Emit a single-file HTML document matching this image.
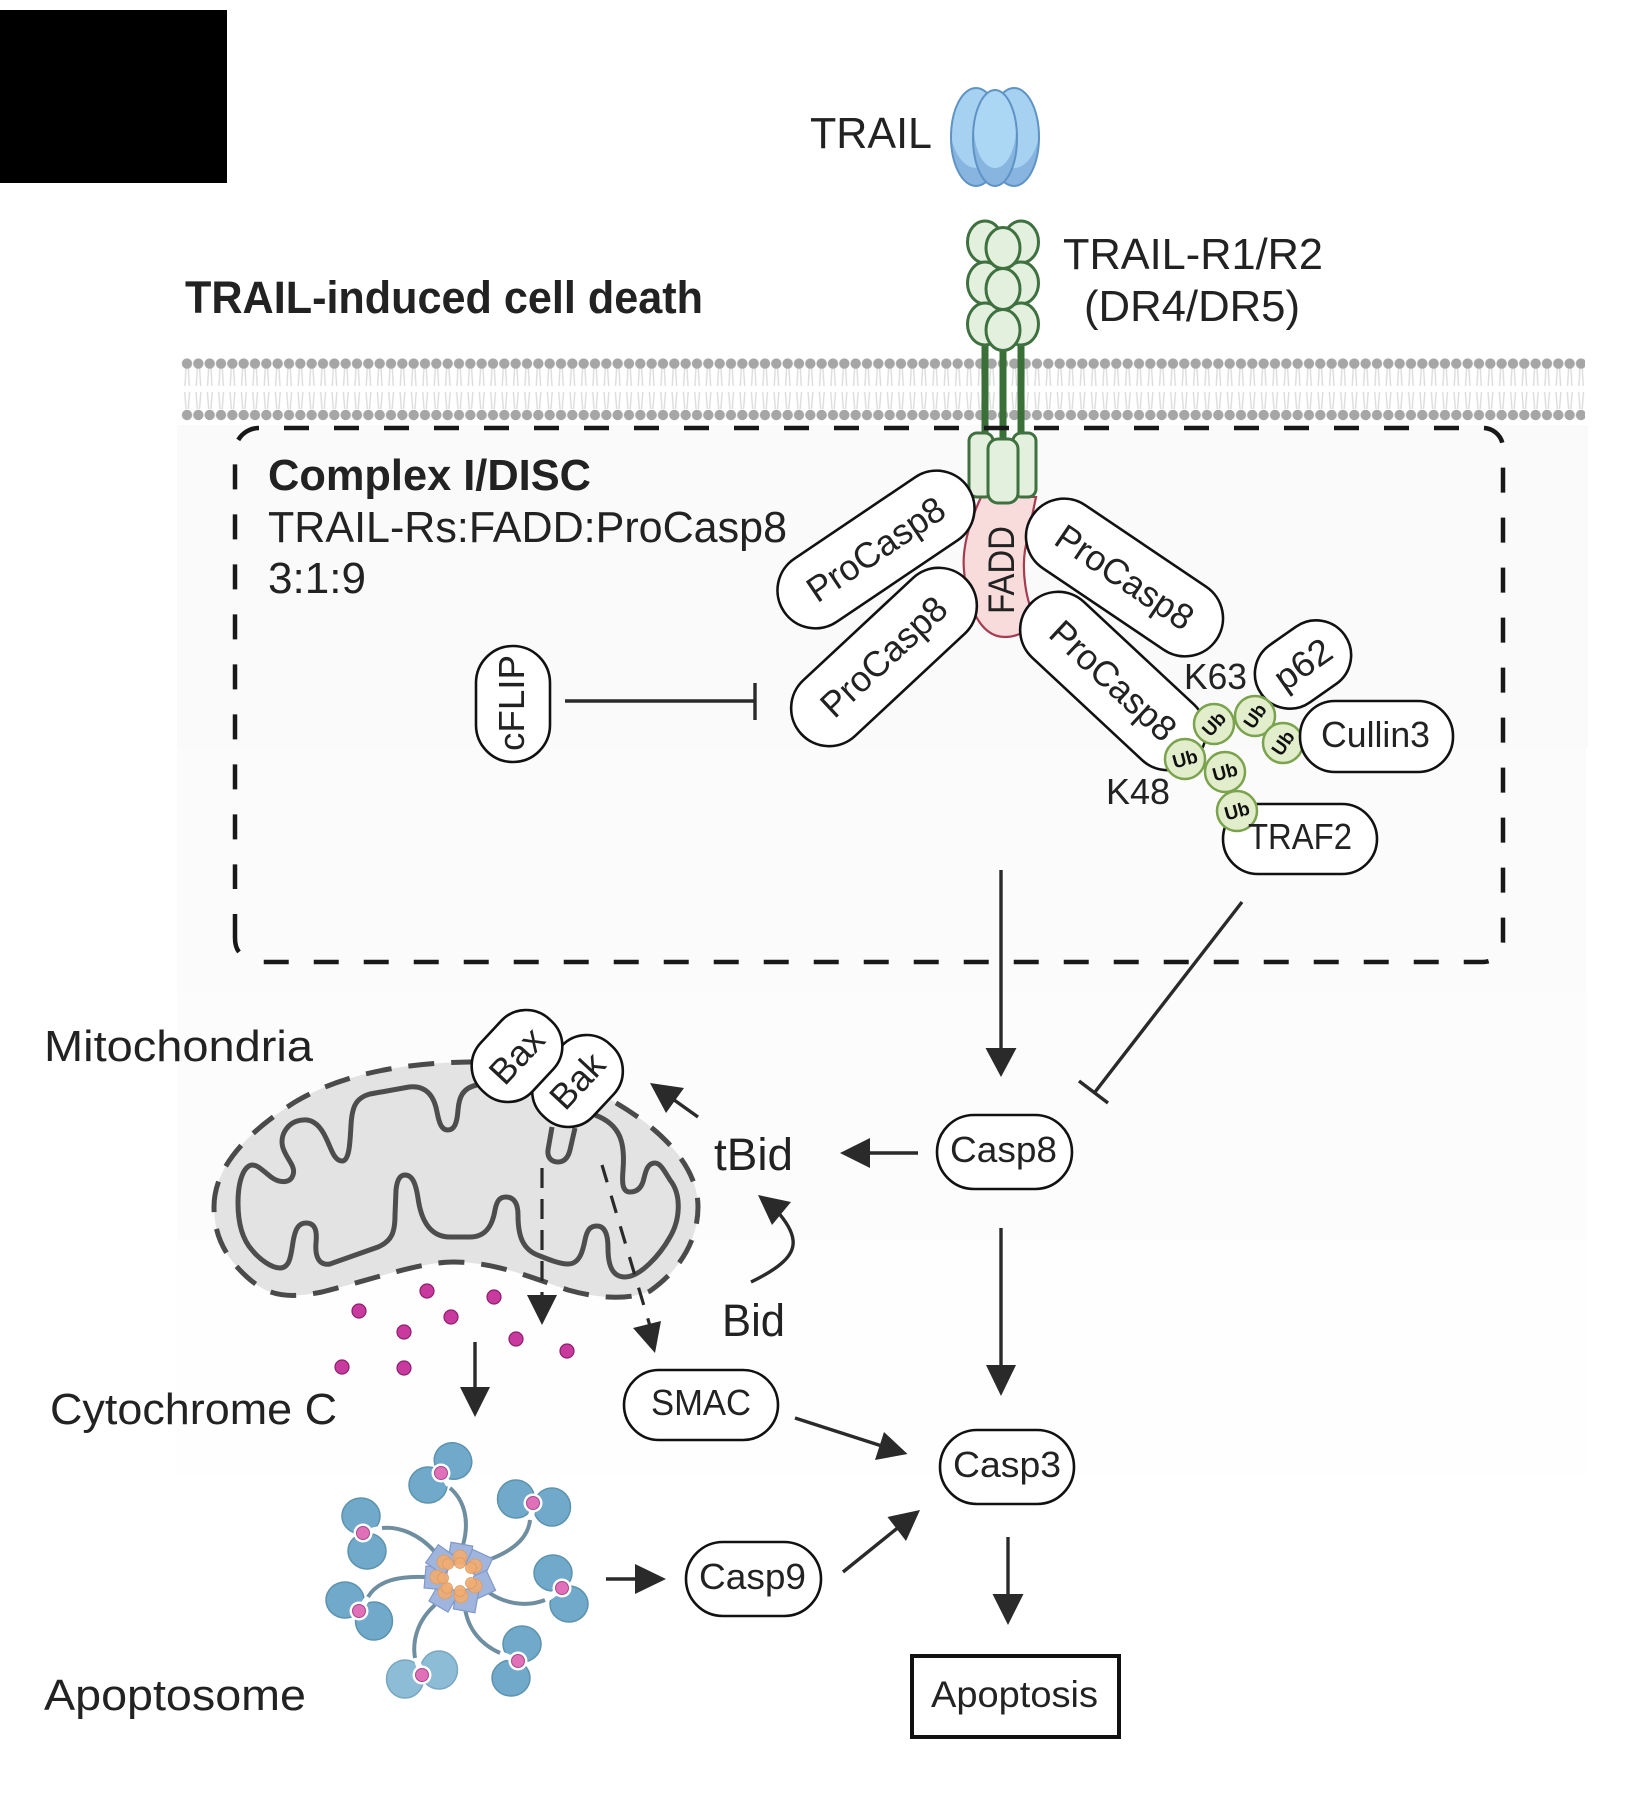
<!DOCTYPE html>
<html><head><meta charset="utf-8"><title>TRAIL-induced cell death</title>
<style>
html,body{margin:0;padding:0;background:#fff}
svg{display:block}
text{font-family:"Liberation Sans",sans-serif;fill:#222}
.l{font-size:44px}
.m{font-size:36px}
.ub{font-size:19px;font-weight:bold;text-anchor:middle;fill:#111}
.pill{fill:#fff;stroke:#111;stroke-width:2.6}
.ln{stroke:#2a2a2a;stroke-width:3.4;fill:none}
.hd{fill:#2a2a2a}
.ubc{fill:#e2eecb;stroke:#7ba34d;stroke-width:2.5}
.bl{fill:#70a9ca;stroke:#5d93ac;stroke-width:1.5}
.stem{fill:none;stroke:#6f8fa1;stroke-width:4}
.wh{fill:#fff}
.pk{fill:#e070b8;stroke:#a8488e;stroke-width:1}
.cy{fill:#c93a9e;stroke:#8d1f6d;stroke-width:1.2}
.sq{fill:#9fb5dd;stroke:#8299c8;stroke-width:1.2}
.or{fill:#f0ac72;stroke:#e09a60;stroke-width:.8;fill-opacity:.9}
</style></head>
<body>
<svg width="1630" height="1815" viewBox="0 0 1630 1815" xmlns="http://www.w3.org/2000/svg">
<defs>
<pattern id="mem" x="181.33" y="355" width="11.333" height="70" patternUnits="userSpaceOnUse">
<path d="M4.7,12 L3.6,31 M6.9,12 L8,31 M3.4,37 L4.7,54 M8.2,37 L6.9,54" stroke="#dcdcdc" stroke-width="1.4" fill="none"/>
<circle cx="5.67" cy="8.6" r="5.2" fill="#a6a6a6"/>
<circle cx="5.67" cy="60" r="5.2" fill="#a6a6a6"/>
</pattern>
<clipPath id="cl"><ellipse cx="976" cy="137" rx="25" ry="49"/></clipPath>
<clipPath id="cr"><ellipse cx="1014" cy="137" rx="25" ry="49"/></clipPath>
<clipPath id="cc"><ellipse cx="995" cy="138" rx="22" ry="48"/></clipPath>
</defs>
<rect width="1630" height="1815" fill="#fff"/>
<rect x="177" y="425" width="1411" height="323" fill="#fafafa"/>
<rect x="177" y="748" width="1409" height="244" fill="#fbfbfb"/>
<rect x="177" y="992" width="1409" height="248" fill="#fcfcfc"/>
<rect x="177" y="1240" width="1409" height="235" fill="#fefefe"/>
<rect x="0" y="10" width="227" height="173" fill="#000"/>

<rect x="181.33" y="355" width="1403.7" height="70" fill="url(#mem)"/>

<text x="185" y="313" font-size="45" font-weight="bold" textLength="518" lengthAdjust="spacingAndGlyphs">TRAIL-induced cell death</text>
<text x="810" y="148" class="l" textLength="122" lengthAdjust="spacingAndGlyphs">TRAIL</text>
<text x="1063" y="269" class="l" textLength="260" lengthAdjust="spacingAndGlyphs">TRAIL-R1/R2</text>
<text x="1084" y="321" class="l" textLength="216" lengthAdjust="spacingAndGlyphs">(DR4/DR5)</text>

<!-- TRAIL ligand -->
<g>
<ellipse cx="976" cy="137" rx="25" ry="49" fill="#87b5df"/>
<ellipse cx="976" cy="118" rx="27" ry="50" fill="#a6d1f1" clip-path="url(#cl)"/>
<ellipse cx="976" cy="137" rx="25" ry="49" fill="none" stroke="#5f93c6" stroke-width="2"/>
<ellipse cx="1014" cy="137" rx="25" ry="49" fill="#87b5df"/>
<ellipse cx="1014" cy="118" rx="27" ry="50" fill="#a6d1f1" clip-path="url(#cr)"/>
<ellipse cx="1014" cy="137" rx="25" ry="49" fill="none" stroke="#5f93c6" stroke-width="2"/>
<ellipse cx="995" cy="138" rx="22" ry="48" fill="#87b5df"/>
<ellipse cx="995" cy="128" rx="21" ry="40" fill="#abd7f5" clip-path="url(#cc)"/>
<ellipse cx="995" cy="138" rx="22" ry="48" fill="none" stroke="#5f93c6" stroke-width="2"/>
</g>

<!-- Receptor stems -->
<g fill="#3a7038">
<rect x="981.5" y="340" width="7" height="100"/>
<rect x="999.5" y="345" width="7" height="100"/>
<rect x="1017.5" y="340" width="7" height="100"/>
</g>
<!-- Receptor globular domains -->
<g fill="#e3f0dd" stroke="#3f7040" stroke-width="3">
<ellipse cx="985" cy="242" rx="17.5" ry="21"/><ellipse cx="1021" cy="242" rx="17.5" ry="21"/>
<ellipse cx="985" cy="283" rx="17.5" ry="21"/><ellipse cx="1021" cy="283" rx="17.5" ry="21"/>
<ellipse cx="985" cy="324" rx="17.5" ry="21"/><ellipse cx="1021" cy="324" rx="17.5" ry="21"/>
<ellipse cx="1003" cy="248" rx="17" ry="20.5"/>
<ellipse cx="1003" cy="289" rx="17" ry="20.5"/>
<ellipse cx="1003" cy="330" rx="17" ry="20.5"/>
</g>

<!-- Dashed DISC box -->
<path d="M284,428 H1483 A20,20 0 0 1 1503,448 V942 A20,20 0 0 1 1483,962 H261" fill="none" stroke="#181818" stroke-width="4.5" stroke-dasharray="25 25"/>
<path d="M259,428 A24,24 0 0 0 235,452 V889" fill="none" stroke="#181818" stroke-width="4.5" stroke-dasharray="25 25"/>
<path d="M235,914 V938 Q235,947 239,952" fill="none" stroke="#181818" stroke-width="4.5"/>

<text x="268" y="490" font-size="44" font-weight="bold" textLength="323" lengthAdjust="spacingAndGlyphs">Complex I/DISC</text>
<text x="268" y="542" class="l" textLength="519" lengthAdjust="spacingAndGlyphs">TRAIL-Rs:FADD:ProCasp8</text>
<text x="268" y="593" class="l" textLength="98" lengthAdjust="spacingAndGlyphs">3:1:9</text>

<!-- FADD -->
<path d="M982,495 C968,525 962,550 964,570 C966,600 978,637 1005,637 C1020,637 1030,628 1036,620 C1025,600 1022,570 1025,550 L1036,497 Z" fill="#f8dcdc" stroke="#a63c50" stroke-width="2.2"/>
<text transform="translate(1014,614) rotate(-90)" font-size="37" textLength="88" lengthAdjust="spacingAndGlyphs">FADD</text>

<!-- Lower barrels -->
<g fill="#e3f0dd" stroke="#3f7040" stroke-width="3">
<rect x="969" y="433" width="24" height="64" rx="8"/>
<rect x="1013" y="433" width="23" height="64" rx="8"/>
<rect x="988" y="439" width="30" height="64" rx="10"/>
</g>

<!-- ProCasp8 pills -->
<g transform="translate(876,549.5) rotate(-34)"><rect class="pill" x="-111" y="-38" width="222" height="76" rx="38"/><text class="m" y="12" text-anchor="middle" textLength="158" lengthAdjust="spacingAndGlyphs">ProCasp8</text></g>
<g transform="translate(884,657) rotate(-43)"><rect class="pill" x="-113" y="-38" width="226" height="76" rx="38"/><text class="m" y="12" text-anchor="middle" textLength="158" lengthAdjust="spacingAndGlyphs">ProCasp8</text></g>
<g transform="translate(1124.5,577.5) rotate(34)"><rect class="pill" x="-111" y="-38" width="222" height="76" rx="38"/><text class="m" y="12" text-anchor="middle" textLength="158" lengthAdjust="spacingAndGlyphs">ProCasp8</text></g>
<g transform="translate(1113,681) rotate(43)"><rect class="pill" x="-113" y="-38" width="226" height="76" rx="38"/><text class="m" y="12" text-anchor="middle" textLength="158" lengthAdjust="spacingAndGlyphs">ProCasp8</text></g>

<text x="1184" y="689" font-size="36" textLength="63" lengthAdjust="spacingAndGlyphs">K63</text>
<text x="1106" y="804" font-size="36" textLength="64" lengthAdjust="spacingAndGlyphs">K48</text>

<g transform="translate(1303,664.5) rotate(-35)"><rect class="pill" x="-51" y="-35" width="102" height="70" rx="35"/><text class="m" y="12" text-anchor="middle" textLength="62" lengthAdjust="spacingAndGlyphs">p62</text></g>
<rect class="pill" x="1223" y="804" width="154" height="70" rx="35"/>

<!-- Ub -->
<g><circle class="ubc" cx="1214" cy="724" r="20"/><text class="ub" y="6.5" transform="translate(1214,724) rotate(-48)">Ub</text></g>
<g><circle class="ubc" cx="1255" cy="716" r="20"/><text class="ub" y="6.5" transform="translate(1255,716) rotate(-55)">Ub</text></g>
<g><circle class="ubc" cx="1283" cy="743" r="20"/><text class="ub" y="6.5" transform="translate(1283,743) rotate(-55)">Ub</text></g>
<g><circle class="ubc" cx="1185" cy="759" r="20"/><text class="ub" y="6.5" transform="translate(1185,759) rotate(-15)">Ub</text></g>
<g><circle class="ubc" cx="1225" cy="772" r="20"/><text class="ub" y="6.5" transform="translate(1225,772) rotate(-15)">Ub</text></g>
<g><circle class="ubc" cx="1237" cy="811" r="20"/><text class="ub" y="6.5" transform="translate(1237,811) rotate(-15)">Ub</text></g>

<rect class="pill" x="1300" y="701" width="153" height="71" rx="35"/>
<text x="1321" y="747" class="m" textLength="109" lengthAdjust="spacingAndGlyphs">Cullin3</text>
<text x="1248" y="849" class="m" textLength="104" lengthAdjust="spacingAndGlyphs">TRAF2</text>

<!-- cFLIP -->
<rect class="pill" x="476" y="646" width="74" height="116" rx="37"/>
<text transform="translate(524,751) rotate(-90)" class="m" textLength="96" lengthAdjust="spacingAndGlyphs">cFLIP</text>
<path class="ln" d="M565,701 H755 M755,683 V720"/>

<!-- Main arrows -->
<path class="ln" d="M1001,870 V1050"/><path class="hd" d="M985.5,1048 H1016.5 L1001,1077 Z"/>
<path class="ln" d="M1242,902 L1095,1092 M1079,1081 L1108,1103"/>
<rect class="pill" x="937" y="1115" width="135" height="74" rx="37"/>
<text x="950" y="1162" class="m" textLength="107" lengthAdjust="spacingAndGlyphs">Casp8</text>
<path class="ln" d="M918,1153 H868"/><path class="hd" d="M840,1153 L870,1138 V1168 Z"/>
<path class="ln" d="M1001,1228 V1367"/><path class="hd" d="M986,1365 H1016 L1001,1396 Z"/>

<!-- Mitochondrion -->
<path d="M214,1207 C214,1175 235,1140 295,1102 C340,1075 400,1063 469,1062 C520,1062 575,1080 611,1100 C650,1122 698,1160 698,1207 C698,1240 680,1270 650,1291 C630,1300 600,1299 568,1290 C530,1277 495,1262 453,1262 C420,1262 370,1280 322,1292 C290,1298 270,1298 247,1277 C225,1257 214,1235 214,1207 Z" fill="#e3e3e3" stroke="#4a4a4a" stroke-width="5" stroke-dasharray="26 17"/>
<path d="M477,1085 C462,1088 459,1098 458,1110 C457,1124 454,1130 448,1130 C441,1130 439,1122 437,1112 C434,1095 425,1085 409,1087 L370,1094 C355,1098 352,1108 351,1125 C350,1145 349,1161 342,1161 C334,1161 331,1148 326,1138 C320,1125 312,1119 303,1120 C288,1121 279,1135 283,1148 C287,1160 296,1166 293,1175 C290,1184 279,1183 271,1177 C262,1170 258,1165 252,1165 C244,1166 238,1180 238,1203 C238,1225 243,1240 252,1250 C260,1260 272,1268 280,1268 C290,1268 291,1255 293,1242 C295,1230 298,1223 306,1223 C316,1223 317,1232 316,1243 C315,1255 318,1266 330,1264 L378,1247 C392,1241 395,1232 395,1215 L396,1190 C397,1180 400,1175 405,1175 C413,1175 416,1185 418,1198 C421,1220 430,1237 450,1237 L470,1237 C488,1237 493,1222 495,1210 C497,1200 500,1197 506,1197 C515,1197 518,1205 518,1215 C518,1235 522,1250 540,1256 C550,1260 560,1264 568,1264 C580,1264 583,1250 585,1240 C587,1230 590,1226 597,1226 C605,1226 608,1235 608,1248 C608,1265 612,1277 625,1277 C640,1277 660,1255 670,1237 C680,1220 682,1195 670,1180 C664,1170 660,1163 655,1163 C648,1163 646,1170 644,1178 C642,1188 637,1192 630,1192 C622,1192 622,1182 623,1170 C625,1145 622,1125 595,1115" fill="none" stroke="#4d4d4d" stroke-width="5"/>
<path d="M552,1127 L548,1150 C547,1158 552,1162 558,1162 C564,1162 568,1158 570,1150 L575,1128" fill="none" stroke="#4d4d4d" stroke-width="5"/>

<g transform="translate(577.5,1081) rotate(-47)"><rect class="pill" x="-49" y="-35.5" width="98" height="71" rx="34"/><text class="m" y="12" text-anchor="middle" textLength="62" lengthAdjust="spacingAndGlyphs">Bak</text></g>
<g transform="translate(517,1056) rotate(-47)"><rect class="pill" x="-49" y="-35.5" width="98" height="71" rx="34"/><text class="m" y="12" text-anchor="middle" textLength="62" lengthAdjust="spacingAndGlyphs">Bax</text></g>

<!-- Dashed arrows -->
<path d="M542,1168 V1296" fill="none" stroke="#2a2a2a" stroke-width="3.2" stroke-dasharray="20 11"/>
<path class="hd" d="M527,1295 H557 L542,1325 Z"/>
<path d="M602,1165 L650,1326" fill="none" stroke="#2a2a2a" stroke-width="3.2" stroke-dasharray="18 14"/>
<path class="hd" d="M633,1328 L661,1321 L655,1353 Z"/>

<!-- tBid / Bid -->
<text x="714" y="1170" font-size="45" textLength="79" lengthAdjust="spacingAndGlyphs">tBid</text>
<text x="722" y="1336" font-size="45" textLength="63" lengthAdjust="spacingAndGlyphs">Bid</text>
<path class="ln" d="M698,1117 L670,1097"/><path class="hd" d="M650,1083 L684,1088 L666,1113 Z"/>
<path class="ln" d="M751,1282 C780,1268 795,1255 793,1240 C792,1230 785,1220 776,1210"/><path class="hd" d="M758,1195 L791,1202 L772,1225 Z"/>

<!-- Cytochrome C dots -->
<g>
<circle class="cy" cx="359" cy="1311" r="7"/><circle class="cy" cx="427" cy="1291" r="7"/>
<circle class="cy" cx="494" cy="1297" r="7"/><circle class="cy" cx="451" cy="1317" r="7"/>
<circle class="cy" cx="404" cy="1332" r="7"/><circle class="cy" cx="516" cy="1339" r="7"/>
<circle class="cy" cx="567" cy="1351" r="7"/><circle class="cy" cx="342" cy="1367" r="7"/>
<circle class="cy" cx="404" cy="1368" r="7"/>
</g>
<path class="ln" d="M475,1342 V1390"/><path class="hd" d="M460,1387 H490 L475,1417 Z"/>

<text x="44" y="1061" class="l" textLength="269" lengthAdjust="spacingAndGlyphs">Mitochondria</text>
<text x="50" y="1424" class="l" textLength="287" lengthAdjust="spacingAndGlyphs">Cytochrome C</text>
<text x="44" y="1710" class="l" textLength="262" lengthAdjust="spacingAndGlyphs">Apoptosome</text>

<!-- SMAC, Casp9, Casp3, Apoptosis -->
<rect class="pill" x="624" y="1370" width="154" height="70" rx="35"/>
<text x="651" y="1415" class="m" textLength="100" lengthAdjust="spacingAndGlyphs">SMAC</text>
<path class="ln" d="M795,1418 L885,1447"/><path class="hd" d="M884,1432 L875,1460 L907.5,1454 Z"/>
<rect class="pill" x="940" y="1430" width="134" height="74" rx="37"/>
<text x="953" y="1477" class="m" textLength="108" lengthAdjust="spacingAndGlyphs">Casp3</text>
<rect class="pill" x="686" y="1542" width="135" height="74" rx="37"/>
<text x="699" y="1589" class="m" textLength="107" lengthAdjust="spacingAndGlyphs">Casp9</text>
<path class="ln" d="M606,1579 H637"/><path class="hd" d="M635,1564 L666,1579 L635,1594 Z"/>
<path class="ln" d="M843,1572 L900,1526"/><path class="hd" d="M887.5,1517 L906,1541 L920,1510 Z"/>
<path class="ln" d="M1008,1537 V1596"/><path class="hd" d="M992.5,1594 H1023.5 L1008,1625 Z"/>
<rect x="912" y="1656" width="207" height="81" fill="#fff" stroke="#111" stroke-width="4"/>
<text x="931" y="1707" font-size="37" fill="#111" textLength="167" lengthAdjust="spacingAndGlyphs">Apoptosis</text>

<!-- Apoptosome -->
<g>
<path class="stem" d="M450,1488 C464,1500 470,1520 463,1545"/>
<path class="stem" d="M530,1520 C528,1540 510,1552 488,1560"/>
<path class="stem" d="M545,1600 C530,1606 508,1606 488,1592"/>
<path class="stem" d="M500,1653 C482,1645 468,1630 465,1608"/>
<path class="stem" d="M415,1658 C412,1640 418,1620 435,1605"/>
<path class="stem" d="M368,1597 C378,1580 400,1576 425,1577"/>
<path class="stem" d="M382,1528 C400,1526 420,1535 435,1552"/>
<g class="bl">
<ellipse cx="453" cy="1461" rx="19" ry="18" transform="rotate(30 453 1461)"/><ellipse cx="428" cy="1485" rx="19" ry="18"/>
<ellipse cx="516" cy="1499" rx="18.5" ry="19"/><ellipse cx="552" cy="1507" rx="18.5" ry="19"/>
<ellipse cx="553" cy="1573" rx="19" ry="18"/><ellipse cx="569" cy="1604" rx="19" ry="18"/>
<ellipse cx="522" cy="1644" rx="19" ry="18"/><ellipse cx="511" cy="1678" rx="19" ry="18"/>
<ellipse cx="345" cy="1600" rx="19" ry="18"/><ellipse cx="374" cy="1621" rx="18.5" ry="19"/>
<ellipse cx="361" cy="1516" rx="19" ry="18"/><ellipse cx="367" cy="1551" rx="19" ry="18"/>
</g>
<ellipse cx="439" cy="1670" rx="18.5" ry="19" fill="#8dbcd6" stroke="#7ba7bf" stroke-width="1.5"/>
<ellipse cx="405" cy="1679" rx="18.5" ry="19" fill="#8dbcd6" stroke="#7ba7bf" stroke-width="1.5"/>
<g stroke="#fff" stroke-width="6">
<line x1="441" y1="1473" x2="449" y2="1485"/><line x1="533" y1="1503" x2="531" y2="1518"/><line x1="562" y1="1588" x2="548" y2="1598"/>
<line x1="518" y1="1661" x2="503" y2="1655"/><line x1="422" y1="1675" x2="417" y2="1660"/><line x1="359" y1="1611" x2="367" y2="1599"/><line x1="363" y1="1533" x2="379" y2="1529"/>
</g>
<g class="wh">
<circle cx="441" cy="1473" r="9.5"/><circle cx="533" cy="1503" r="9.5"/><circle cx="562" cy="1588" r="9.5"/>
<circle cx="518" cy="1661" r="9.5"/><circle cx="422" cy="1675" r="9.5"/><circle cx="359" cy="1611" r="9.5"/><circle cx="363" cy="1533" r="9.5"/>
</g>
<g class="pk">
<circle cx="441" cy="1473" r="6.5"/><circle cx="533" cy="1503" r="6.5"/><circle cx="562" cy="1588" r="6.5"/>
<circle cx="518" cy="1661" r="6.5"/><circle cx="422" cy="1675" r="6.5"/><circle cx="359" cy="1611" r="6.5"/><circle cx="363" cy="1533" r="6.5"/>
</g>
<g class="sq">
<rect x="-11" y="-11" width="22" height="22" transform="translate(460,1555) rotate(10)"/>
<rect x="-11" y="-11" width="22" height="22" transform="translate(478,1564) rotate(25)"/>
<rect x="-11" y="-11" width="22" height="22" transform="translate(481,1585) rotate(65)"/>
<rect x="-11" y="-11" width="22" height="22" transform="translate(466,1600) rotate(10)"/>
<rect x="-11" y="-11" width="22" height="22" transform="translate(444,1597) rotate(30)"/>
<rect x="-11" y="-11" width="22" height="22" transform="translate(436,1578) rotate(5)"/>
<rect x="-11" y="-11" width="22" height="22" transform="translate(441,1560) rotate(35)"/>
</g>
<circle cx="460" cy="1577" r="13" fill="#fff"/>
<g class="or">
<circle cx="460" cy="1557" r="7"/><circle cx="475" cy="1566" r="7"/><circle cx="475" cy="1586" r="7"/>
<circle cx="461" cy="1596" r="7"/><circle cx="445" cy="1592" r="7"/><circle cx="437" cy="1577" r="7"/><circle cx="444" cy="1562" r="7"/>
<circle cx="460" cy="1563" r="5.5"/><circle cx="471" cy="1568" r="5.5"/><circle cx="471" cy="1583" r="5.5"/>
<circle cx="460" cy="1591" r="5.5"/><circle cx="447" cy="1588" r="5.5"/><circle cx="443" cy="1578" r="5.5"/><circle cx="448" cy="1564" r="5.5"/>
</g>
</g>
</svg>
</body></html>
